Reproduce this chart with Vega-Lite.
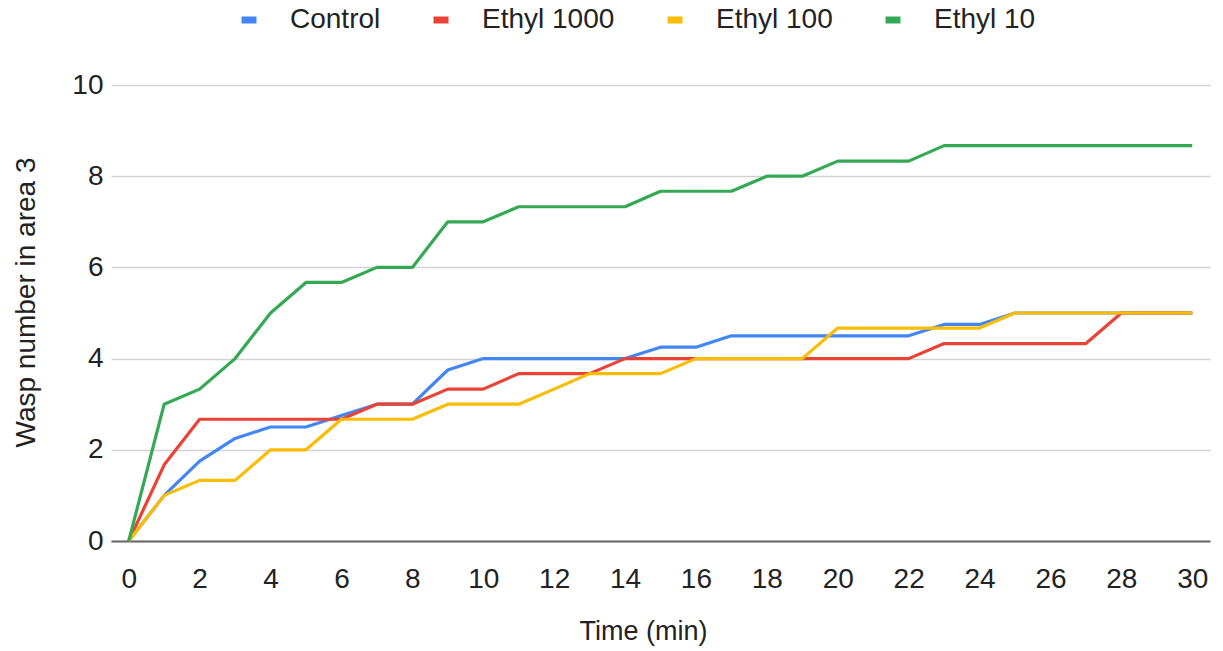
{
  "$schema": "https://vega.github.io/schema/vega-lite/v6.json",
  "autosize": {"type": "none"},
  "width": 1099,
  "height": 456,
  "padding": {"left": 111, "top": 85, "right": 13, "bottom": 110},
  "background": "white",
  "config": {
    "font": "Liberation Sans",
    "view": {"stroke": null}
  },
  "datasets": {
    "series": [
      {"name": "Control", "vals": [0,1,1.75,2.25,2.5,2.5,2.75,3,3,3.75,4,4,4,4,4,4.25,4.25,4.5,4.5,4.5,4.5,4.5,4.5,4.75,4.75,5,5,5,5,5,5]},
      {"name": "Ethyl 1000", "vals": [0,1.67,2.67,2.67,2.67,2.67,2.67,3,3,3.33,3.33,3.67,3.67,3.67,4,4,4,4,4,4,4,4,4,4.33,4.33,4.33,4.33,4.33,5,5,5]},
      {"name": "Ethyl 100", "vals": [0,1,1.33,1.33,2,2,2.67,2.67,2.67,3,3,3,3.33,3.67,3.67,3.67,4,4,4,4,4.67,4.67,4.67,4.67,4.67,5,5,5,5,5,5]},
      {"name": "Ethyl 10", "vals": [0,3,3.33,4,5,5.67,5.67,6,6,7,7,7.33,7.33,7.33,7.33,7.67,7.67,7.67,8,8,8.33,8.33,8.33,8.67,8.67,8.67,8.67,8.67,8.67,8.67,8.67]}
    ]
  },
  "data": {"name": "series"},
  "transform": [
    {"flatten": ["vals"], "as": ["v"]},
    {"window": [{"op": "row_number", "as": "rn"}], "groupby": ["name"]},
    {"calculate": "datum.rn - 1", "as": "t"}
  ],
  "mark": {"type": "line", "strokeWidth": 3.2, "strokeJoin": "round"},
  "encoding": {
    "x": {
      "field": "t", "type": "quantitative",
      "scale": {"domain": [-0.5, 30.5], "nice": false, "zero": false},
      "axis": {
        "values": [0,2,4,6,8,10,12,14,16,18,20,22,24,26,28,30],
        "grid": false, "ticks": false,
        "domainColor": "#666", "domainWidth": 2,
        "labelFontSize": 28, "labelColor": "#222",
        "labelBaseline": "alphabetic", "labelPadding": 46,
        "labelFlush": false,
        "title": "Time (min)", "titleFontSize": 27, "titleFontWeight": "normal", "titleColor": "#222",
        "titleX": 532, "titleY": 98, "titleBaseline": "alphabetic", "titleAlign": "center"
      }
    },
    "y": {
      "field": "v", "type": "quantitative",
      "scale": {"domain": [0, 10], "nice": false},
      "axis": {
        "values": [0,2,4,6,8,10],
        "domain": false, "ticks": false,
        "gridColor": "#d3d3d3", "gridWidth": 1.5,
        "labelFontSize": 28, "labelColor": "#222", "labelPadding": 8,
        "title": "Wasp number in area 3", "titleFontSize": 28, "titleFontWeight": "normal", "titleColor": "#222",
        "titleAngle": -90, "titleX": -77, "titleY": 217, "titleBaseline": "alphabetic", "titleAlign": "center"
      }
    },
    "color": {
      "field": "name", "type": "nominal",
      "scale": {
        "domain": ["Control", "Ethyl 1000", "Ethyl 100", "Ethyl 10"],
        "range": ["#4285F4", "#EA4335", "#FBBC04", "#34A853"]
      },
      "legend": {
        "orient": "none", "direction": "horizontal", "columns": 4,
        "legendX": 124, "legendY": -79,
        "title": null,
        "symbolType": "stroke", "symbolSize": 225, "symbolStrokeWidth": 7,
        "labelFontSize": 28, "labelColor": "#222", "labelOffset": 27,
        "columnPadding": 38, "labelLimit": 400
      }
    }
  }
}
